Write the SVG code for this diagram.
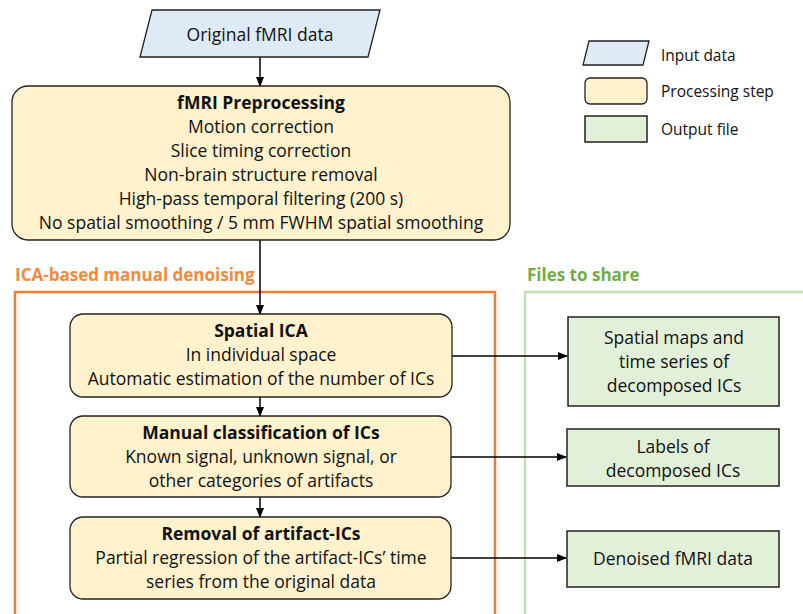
<svg xmlns="http://www.w3.org/2000/svg" width="803" height="614" viewBox="0 0 803 614">
<defs>
<marker id="arr" markerWidth="10" markerHeight="10" refX="9" refY="5" orient="auto" markerUnits="userSpaceOnUse">
<path d="M0,1 L10,5 L0,9 Z" fill="#000"/>
</marker>
<style>
text{font-family:"Open Sans","Liberation Sans",Arial,sans-serif;font-size:17.5px;fill:#111;text-anchor:middle}
.b{font-weight:bold}
.l{text-anchor:start}
.lg{font-size:15.5px}
.hd{font-size:17px;font-weight:bold;text-anchor:start}
.input{fill:#DEEBF7;stroke:#222;stroke-width:1.3}
.proc{fill:#FFF2CC;stroke:#222;stroke-width:1.3}
.out{fill:#E2F0D9;stroke:#222;stroke-width:1.5}
.c{stroke:#000;stroke-width:1.5;fill:none;marker-end:url(#arr)}
</style>
</defs>
<rect width="803" height="614" fill="#fff"/>

<g id="frames">
<rect x="15" y="292" width="480" height="340" fill="none" stroke="#ED7D31" stroke-width="2.5"/>
<text class="hd" x="15" y="281" style="fill:#F08A3C">ICA-based manual denoising</text>
<path d="M525,614 V292 H803" fill="none" stroke="#C5E0B4" stroke-width="2.5"/>
<text class="hd" x="527" y="281" style="fill:#70AD47">Files to share</text>
</g>

<g id="connectors">
<line class="c" x1="260" y1="57" x2="260" y2="86"/>
<line class="c" x1="260" y1="240" x2="260" y2="314"/>
<line class="c" x1="260" y1="397" x2="260" y2="416"/>
<line class="c" x1="260" y1="497" x2="260" y2="517"/>
<line class="c" x1="452" y1="356" x2="567" y2="356"/>
<line class="c" x1="451" y1="457" x2="566" y2="457"/>
<line class="c" x1="451" y1="558" x2="566" y2="558"/>
</g>

<g id="input">
<polygon class="input" points="152,10 380,10 368,57 140,57"/>
<text x="260" y="41">Original fMRI data</text>
</g>

<g id="preprocessing">
<rect class="proc" x="12" y="86" width="498" height="154" rx="16"/>
<text class="b" x="261" y="109">fMRI Preprocessing</text>
<text x="261" y="133">Motion correction</text>
<text x="261" y="157">Slice timing correction</text>
<text x="261" y="181">Non-brain structure removal</text>
<text x="261" y="205">High-pass temporal filtering (200 s)</text>
<text x="261" y="229">No spatial smoothing / 5 mm FWHM spatial smoothing</text>
</g>

<g id="spatial-ica">
<rect class="proc" x="70" y="314" width="382" height="83" rx="13"/>
<text class="b" x="261" y="337">Spatial ICA</text>
<text x="261" y="361">In individual space</text>
<text x="261" y="385">Automatic estimation of the number of ICs</text>
</g>

<g id="manual-classification">
<rect class="proc" x="70" y="416" width="381" height="81" rx="13"/>
<text class="b" x="261" y="439">Manual classification of ICs</text>
<text x="261" y="463">Known signal, unknown signal, or</text>
<text x="261" y="487">other categories of artifacts</text>
</g>

<g id="removal">
<rect class="proc" x="70" y="517" width="381" height="82" rx="13"/>
<text class="b" x="261" y="540">Removal of artifact-ICs</text>
<text x="261" y="564">Partial regression of the artifact-ICs’ time</text>
<text x="261" y="588">series from the original data</text>
</g>

<g id="spatial-maps">
<rect class="out" x="568" y="317" width="211" height="89"/>
<text x="674" y="344">Spatial maps and</text>
<text x="674" y="368">time series of</text>
<text x="674" y="392">decomposed ICs</text>
</g>

<g id="labels">
<rect class="out" x="567" y="429" width="212" height="57"/>
<text x="673" y="453">Labels of</text>
<text x="673" y="477">decomposed ICs</text>
</g>

<g id="denoised">
<rect class="out" x="567" y="531" width="212" height="56"/>
<text x="673" y="565">Denoised fMRI data</text>
</g>

<g id="legend">
<polygon class="input" points="589,41 649,41 643,65 583,65"/>
<text class="l lg" x="661" y="61">Input data</text>
<rect class="proc" x="585" y="78" width="62" height="26" rx="5"/>
<text class="l lg" x="661" y="97">Processing step</text>
<rect class="out" x="585" y="116" width="62" height="26"/>
<text class="l lg" x="661" y="135">Output file</text>
</g>
</svg>
